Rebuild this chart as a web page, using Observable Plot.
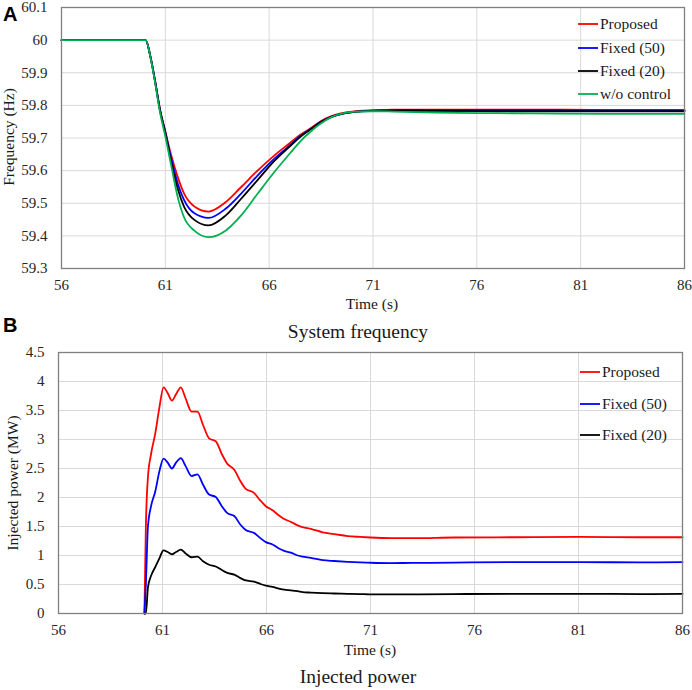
<!DOCTYPE html>
<html><head><meta charset="utf-8">
<script src="https://cdn.jsdelivr.net/npm/d3@7"></script>
<script src="https://cdn.jsdelivr.net/npm/@observablehq/plot@0.6"></script>
<style>
body{margin:0;background:#fff;}
#wrap{position:relative;width:692px;height:690px;overflow:hidden;font-family:"Liberation Serif","Times New Roman",serif;}
#wrap > .panel{position:absolute;left:0;}
#panelA{top:0;} #panelB{top:340px;}
#overlay{position:absolute;left:0;top:0;pointer-events:none;}
#wrap svg text{font-family:"Liberation Serif","Times New Roman",serif;}
#wrap svg text.sans{font-family:"Liberation Sans",Arial,sans-serif;}
</style></head><body><div id="wrap"><div id="panelA" class="panel"></div><div id="panelB" class="panel"></div></div>
<script>
// ---------- Data ----------
const xTicks = [56, 61, 66, 71, 76, 81, 86];
const freqTicks = [59.3, 59.4, 59.5, 59.6, 59.7, 59.8, 59.9, 60, 60.1];
const powerTicks = [0, 0.5, 1, 1.5, 2, 2.5, 3, 3.5, 4, 4.5];

const seriesA = ["Proposed", "Fixed (50)", "Fixed (20)", "w/o control"];
const colorsA = ["#ff0000", "#0000ff", "#000000", "#00b050"];
const seriesB = ["Proposed", "Fixed (50)", "Fixed (20)"];
const colorsB = ["#ff0000", "#0000ff", "#000000"];

// Frequency (Hz)
const timeA = [56, 60, 60.05, 60.3, 60.5, 60.75, 61, 61.27, 61.6, 61.9, 62.4, 63.08, 63.9, 64.64, 65.44, 66.24, 67.04, 67.5, 68, 68.5, 69, 69.5, 70, 71, 72, 74, 77, 80, 83, 86];
const freqProposed = [60, 60, 60, 59.944, 59.877, 59.785, 59.72, 59.65, 59.58, 59.53, 59.49, 59.4745, 59.503, 59.549, 59.60, 59.646, 59.687, 59.71, 59.73, 59.752, 59.767, 59.776, 59.781, 59.785, 59.787, 59.787, 59.787, 59.787, 59.786, 59.786];
const freqFixed50 = [60, 60, 60, 59.944, 59.877, 59.784, 59.718, 59.64, 59.56, 59.51, 59.469, 59.455, 59.483, 59.529, 59.585, 59.636, 59.68, 59.706, 59.728, 59.75, 59.765, 59.774, 59.779, 59.784, 59.785, 59.785, 59.785, 59.785, 59.784, 59.784];
const freqFixed20 = [60, 60, 60, 59.944, 59.876, 59.783, 59.715, 59.63, 59.544, 59.49, 59.449, 59.432, 59.462, 59.513, 59.571, 59.629, 59.677, 59.704, 59.727, 59.749, 59.765, 59.774, 59.779, 59.783, 59.784, 59.783, 59.782, 59.782, 59.782, 59.782];
const freqNoControl = [60, 60, 60, 59.942, 59.872, 59.776, 59.705, 59.62, 59.518, 59.457, 59.416, 59.396, 59.416, 59.462, 59.529, 59.595, 59.656, 59.69, 59.72, 59.745, 59.764, 59.775, 59.78, 59.782, 59.781, 59.778, 59.776, 59.775, 59.774, 59.774];

// Injected power (MW)
const timeB = [60.13, 60.2, 60.3, 60.45, 60.65, 60.85, 61.05, 61.25, 61.45, 61.65, 61.88, 62.1, 62.4, 62.68, 62.95, 63.24, 63.56, 63.85, 64.12, 64.45, 64.75, 65.0, 65.4, 65.7, 65.97, 66.29, 66.6, 66.85, 67.17, 67.5, 67.73, 68.13, 68.7, 69.25, 69.9, 70.5, 71, 72, 73, 75, 78, 81, 84, 86];
const powerProposed = [0, 1.5, 2.35, 2.75, 3.1, 3.55, 3.9, 3.8, 3.67, 3.78, 3.9, 3.72, 3.48, 3.48, 3.25, 3.02, 2.97, 2.75, 2.58, 2.48, 2.28, 2.15, 2.08, 1.95, 1.85, 1.78, 1.69, 1.63, 1.58, 1.52, 1.49, 1.46, 1.40, 1.37, 1.335, 1.32, 1.31, 1.30, 1.30, 1.31, 1.315, 1.32, 1.315, 1.315];
const powerFixed50 = [0, 0.5, 1.5, 1.85, 2.1, 2.45, 2.67, 2.6, 2.5, 2.6, 2.68, 2.55, 2.37, 2.4, 2.22, 2.05, 2.01, 1.85, 1.73, 1.68, 1.53, 1.44, 1.39, 1.30, 1.23, 1.19, 1.12, 1.08, 1.05, 1.00, 0.98, 0.96, 0.92, 0.905, 0.89, 0.88, 0.875, 0.87, 0.872, 0.878, 0.885, 0.885, 0.882, 0.885];
const powerFixed20 = [0, 0, 0.45, 0.65, 0.8, 0.95, 1.09, 1.06, 1.02, 1.06, 1.1, 1.04, 0.97, 0.98, 0.9, 0.84, 0.81, 0.75, 0.70, 0.67, 0.61, 0.57, 0.55, 0.51, 0.48, 0.46, 0.43, 0.41, 0.40, 0.385, 0.37, 0.36, 0.35, 0.345, 0.34, 0.335, 0.33, 0.33, 0.33, 0.335, 0.34, 0.34, 0.335, 0.34];

// ---------- Build tables ----------
const freqSeries = [freqProposed, freqFixed50, freqFixed20, freqNoControl];
const freqData = seriesA.flatMap((s, i) => timeA.map((t, j) => ({t, v: freqSeries[i][j], s})));
const powerSeries = [powerProposed, powerFixed50, powerFixed20];
const powerData = seriesB.flatMap((s, i) => timeB.map((t, j) => ({t, v: powerSeries[i][j], s})));

const FONT = "Liberation Serif, Times New Roman, serif";
const gridStyle = {stroke: "#d9d9d9", strokeOpacity: 1, strokeWidth: 1};
const axisStyle = {tickSize: 0, label: null, fontSize: 15, fontFamily: FONT, fill: "#262626"};

const chartA = Plot.plot({
  width: 692, height: 315,
  marginLeft: 61, marginRight: 8, marginTop: 7, marginBottom: 47,
  style: {fontFamily: FONT, fontSize: "15px", color: "#262626", background: "transparent"},
  x: {domain: [56, 86]},
  y: {domain: [59.3, 60.1]},
  color: {domain: seriesA, range: colorsA},
  marks: [
    Plot.gridX(xTicks, gridStyle),
    Plot.gridY(freqTicks, gridStyle),
    Plot.line(freqData, {x: "t", y: "v", z: "s", stroke: "s", curve: "monotone-x", strokeWidth: 1.8}),
    Plot.frame({stroke: "#808080", strokeWidth: 1.3}),
    Plot.axisX(xTicks, {...axisStyle, tickPadding: 11}),
    Plot.axisY(freqTicks, {...axisStyle, tickPadding: 14, tickFormat: d => String(d)})
  ]
});

const chartB = Plot.plot({
  width: 692, height: 320,
  marginLeft: 58, marginRight: 10, marginTop: 12, marginBottom: 47,
  style: {fontFamily: FONT, fontSize: "15px", color: "#262626", background: "transparent"},
  x: {domain: [56, 86]},
  y: {domain: [0, 4.5]},
  color: {domain: seriesB, range: colorsB},
  marks: [
    Plot.gridX(xTicks, gridStyle),
    Plot.gridY(powerTicks, gridStyle),
    Plot.line(powerData, {x: "t", y: "v", z: "s", stroke: "s", curve: "monotone-x", strokeWidth: 1.8}),
    Plot.frame({stroke: "#808080", strokeWidth: 1.3}),
    Plot.axisX(xTicks, {...axisStyle, tickPadding: 11}),
    Plot.axisY(powerTicks, {...axisStyle, tickPadding: 14, tickFormat: d => String(d)})
  ]
});

document.getElementById("panelA").appendChild(chartA);
document.getElementById("panelB").appendChild(chartB);

// ---------- Overlay texts & legends ----------
const ov = d3.select("#wrap").append("svg").attr("id", "overlay")
  .attr("width", 692).attr("height", 690);

function txt(x, y, s, size, anchor = "middle", extra = {}) {
  const t = ov.append("text").attr("x", x).attr("y", y).attr("text-anchor", anchor)
    .attr("font-family", FONT).attr("fill", "#1a1a1a")
    .style("font-size", size + "px").text(s);
  for (const k in extra) t.attr(k, extra[k]);
  return t;
}

// panel letters
txt(3, 21, "A", 20, "start").attr("class", "sans").style("font-weight", "bold").attr("fill", "#000");
txt(3, 332, "B", 20, "start").attr("class", "sans").style("font-weight", "bold").attr("fill", "#000");

// axis titles
txt(372, 309, "Time (s)", 15.5);
txt(370, 655, "Time (s)", 15.5);
txt(13.5, 137, "Frequency (Hz)", 15.5, "middle", {transform: "rotate(-90,13.5,137)"});
txt(18, 483, "Injected power (MW)", 15.5, "middle", {transform: "rotate(-90,18,483)"});

// captions
txt(358, 338, "System frequency", 19.5);
txt(358, 683, "Injected power", 19.5);

// legends
function legend(items, colors, x1, x2, tx, ys) {
  items.forEach((s, i) => {
    ov.append("line").attr("x1", x1).attr("x2", x2).attr("y1", ys[i]).attr("y2", ys[i])
      .attr("stroke", colors[i]).attr("stroke-width", 1.8);
    txt(tx, ys[i] + 5, s, 15.5, "start");
  });
}
legend(seriesA, colorsA, 578, 598, 600, [24, 48, 71, 94]);
legend(seriesB, colorsB, 580, 600, 602, [372, 404, 435]);
</script></body></html>
